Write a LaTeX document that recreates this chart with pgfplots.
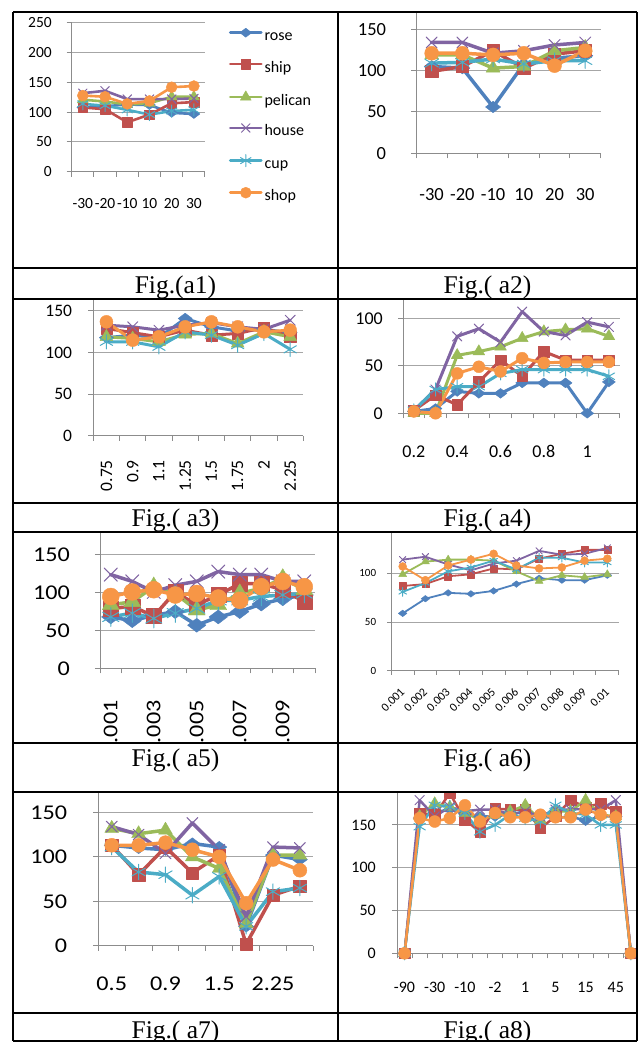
\documentclass[border=0pt]{standalone}
\usepackage{fontspec}
\setmainfont{Carlito}
\newfontfamily\capfont{Liberation Serif}
\newfontfamily\widefont{Carlito}[FakeStretch=1.15]
\usepackage{pgfplots}
\pgfplotsset{compat=1.18}
\usetikzlibrary{plotmarks}
\definecolor{cRose}{HTML}{4F81BD}
\definecolor{cShip}{HTML}{C0504D}
\definecolor{cPel}{HTML}{9BBB59}
\definecolor{cHouse}{HTML}{8064A2}
\definecolor{cCup}{HTML}{4BACC6}
\definecolor{cShop}{HTML}{F79646}
\definecolor{gridc}{HTML}{A6A6A6}
\definecolor{axc}{HTML}{8C8C8C}
\pgfplotsset{
  xl/.style={
    scale only axis, clip=false, anchor=south west,
    axis x line*=bottom, axis y line*=left,
    axis line style={-, axc, line width=1pt},
    ymajorgrids, grid style={gridc, line width=1pt},
    tick align=outside,
    major tick length=5pt, minor tick length=5pt,
    major x tick style={draw=none},
    minor x tick style={axc, line width=1pt},
    major y tick style={axc, line width=1pt},
    xmin=0.5, ymin=0,
    /pgf/number format/assume math mode=true,
    ticklabel style={text=black, inner sep=0pt},
    xticklabel style={anchor=north},
    yticklabel style={anchor=east},
    every axis plot/.append style={line join=round, line cap=round},
  },
  sRose/.style={color=cRose, mark=diamond*, mark options={solid, fill=cRose, line width=0.4pt, xscale=1.45, yscale=0.82}},
  sShip/.style={color=cShip, mark=square*, mark options={solid, fill=cShip, line width=0.4pt, scale=0.88}},
  sPel/.style={color=cPel, mark=triangle*, mark options={solid, fill=cPel, line width=0.4pt, scale=1.15}},
  sHouse/.style={color=cHouse, mark=x, mark options={solid, line width=1pt, scale=1.1}},
  sCup/.style={color=cCup, mark=asterisk, mark options={solid, line width=1pt, scale=1.1}},
  sShop/.style={color=cShop, mark=*, mark options={solid, fill=cShop, line width=0.4pt}},
}
\begin{document}
\begin{tikzpicture}[x=1pt,y=1pt]
\useasboundingbox (0,0) rectangle (638,1042);

% ---------------- a1 ----------------
\begin{scope}
\clip (13,774) rectangle (338,1030);
\begin{axis}[xl, at={(71.7pt,870.3pt)}, width=133.3pt, height=148.7pt,
  xmax=6.5, ymax=250, ytick={0,50,...,250},
  xtick={1,...,6}, xticklabels={-30,-20,-10,10,20,30},
  minor xtick={0.5,1.5,...,6.5},
  ticklabel style={font=\fontsize{15.5}{18}\selectfont},
  xticklabel shift=22pt, yticklabel shift=14.7pt,
  mark size=5.5pt, every axis plot/.append style={line width=2.6pt},
  legend style={at={(1.18,0.965)}, anchor=north west, draw=none, fill=none,
    inner sep=0pt, outer sep=0pt, row sep=14.6pt,
    font=\fontsize{16}{19}\selectfont,
    nodes={inner sep=0pt, text height=12pt, text depth=4pt},
    /tikz/every odd column/.append style={column sep=2pt}},
  legend cell align=left,
  legend image code/.code={\draw[mark repeat=2,mark phase=2,#1,yshift=4pt] plot coordinates {(0pt,0pt) (15.5pt,0pt) (31pt,0pt)};},
]
\addplot[sRose] coordinates {(1,108)(2,110)(3,113)(4,112)(5,99)(6,97)};
\addlegendentry{rose}
\addplot[sShip] coordinates {(1,108)(2,105)(3,83)(4,96)(5,115)(6,117)};
\addlegendentry{ship}
\addplot[sPel] coordinates {(1,121)(2,118)(3,113)(4,115)(5,126)(6,126)};
\addlegendentry{pelican}
\addplot[sHouse] coordinates {(1,132)(2,136)(3,122)(4,122)(5,122)(6,123)};
\addlegendentry{house}
\addplot[sCup] coordinates {(1,114)(2,111)(3,104)(4,96)(5,102)(6,104)};
\addlegendentry{cup}
\addplot[sShop] coordinates {(1,128)(2,126)(3,114)(4,119)(5,142)(6,144)};
\addlegendentry{shop}
\end{axis}
\end{scope}

% ---------------- a2 ----------------
\begin{scope}
\clip (338,774) rectangle (637,1030);
\begin{axis}[xl, at={(416.3pt,888.7pt)}, width=184.3pt, height=144.7pt,
  xmax=6.5, ymax=175, ytick={0,50,100,150},
  xtick={1,...,6}, xticklabels={-30,-20,-10,10,20,30},
  minor xtick={0.5,1.5,...,6.5},
  ticklabel style={font=\fontsize{18.5}{22}\selectfont},
  xticklabel shift=30pt, yticklabel shift=25pt,
  mark size=7pt, every axis plot/.append style={line width=3.5pt},
]
\addplot[sRose] coordinates {(1,105)(2,103)(3,56)(4,108)(5,115)(6,118)};
\addplot[sShip] coordinates {(1,99)(2,105)(3,124)(4,103)(5,120)(6,124)};
\addplot[sPel] coordinates {(1,119)(2,119)(3,103)(4,105)(5,124)(6,128)};
\addplot[sHouse] coordinates {(1,134)(2,134)(3,121)(4,124)(5,131)(6,134)};
\addplot[sCup] coordinates {(1,109)(2,110)(3,114)(4,108)(5,112)(6,112)};
\addplot[sShop] coordinates {(1,121)(2,121)(3,119)(4,121)(5,106)(6,124)};
\end{axis}
\end{scope}

% ---------------- a3 ----------------
\begin{scope}
\clip (13,539) rectangle (338,743);
\begin{axis}[xl, at={(93.3pt,606pt)}, width=210pt, height=137.5pt,
  xmax=8.5, ymax=165, ytick={0,50,100,150},
  xtick={1,...,8}, xticklabels={0.75,0.9,1.1,1.25,1.5,1.75,2,2.25},
  minor xtick={0.5,1.5,...,8.5},
  ticklabel style={font=\fontsize{17.5}{21}\selectfont},
  xticklabel style={rotate=90, anchor=east},
  xticklabel shift=19pt, yticklabel shift=16pt,
  mark size=6.5pt, every axis plot/.append style={line width=3pt},
]
\addplot[sRose] coordinates {(1,118)(2,121)(3,118)(4,141)(5,131)(6,126)(7,128)(8,124)};
\addplot[sShip] coordinates {(1,129)(2,124)(3,119)(4,127)(5,121)(6,123)(7,130)(8,119)};
\addplot[sPel] coordinates {(1,119)(2,117)(3,113)(4,122)(5,123)(6,111)(7,125)(8,119)};
\addplot[sHouse] coordinates {(1,133)(2,131)(3,127)(4,133)(5,136)(6,131)(7,128)(8,139)};
\addplot[sCup] coordinates {(1,113)(2,113)(3,107)(4,125)(5,121)(6,109)(7,123)(8,104)};
\addplot[sShop] coordinates {(1,137)(2,115)(3,119)(4,131)(5,137)(6,131)(7,125)(8,127)};
\end{axis}
\end{scope}

% ---------------- a4 ----------------
\begin{scope}
\clip (338,539) rectangle (637,743);
\begin{axis}[xl, at={(403pt,628.7pt)}, width=216.7pt, height=114pt,
  xmax=10.5, ymax=120, ytick={0,50,100},
  xtick={1,3,5,7,9}, xticklabels={0.2,0.4,0.6,0.8,1},
  minor xtick={0.5,1.5,...,10.5},
  ticklabel style={font=\fontsize{18}{22}\selectfont},
  xticklabel shift=27pt, yticklabel shift=15pt,
  mark size=6pt, every axis plot/.append style={line width=3pt},
]
\addplot[sRose] coordinates {(1,2)(2,5)(3,23)(4,21)(5,21)(6,32)(7,32)(8,32)(9,0)(10,33)};
\addplot[sShip] coordinates {(1,3)(2,19)(3,9)(4,33)(5,56)(6,39)(7,65)(8,56)(9,56)(10,56)};
\addplot[sPel] coordinates {(1,0)(2,0)(3,61)(4,65)(5,70)(6,79)(7,86)(8,88)(9,89)(10,81)};
\addplot[sHouse] coordinates {(1,3)(2,25)(3,81)(4,89)(5,75)(6,107)(7,86)(8,82)(9,96)(10,91)};
\addplot[sCup] coordinates {(1,3)(2,25)(3,28)(4,28)(5,42)(6,46)(7,46)(8,46)(9,46)(10,39)};
\addplot[sShop] coordinates {(1,2)(2,0)(3,42)(4,49)(5,44)(6,58)(7,53)(8,54)(9,54)(10,54)};
\end{axis}
\end{scope}

% ---------------- a5 ----------------
\begin{scope}
\clip (13,299) rectangle (338,510);
\begin{axis}[xl, at={(100pt,373.7pt)}, width=215pt, height=136pt,
  xmax=10.5, ymax=180, ytick={0,50,100,150},
  xtick={1,3,5,7,9}, xticklabels={.001,.003,.005,.007,.009},
  minor xtick={0.5,1.5,...,10.5},
  ticklabel style={font=\widefont\fontsize{21}{25}\selectfont},
  xticklabel style={rotate=90, anchor=east},
  xticklabel shift=27pt, yticklabel shift=25pt,
  mark size=8.5pt, every axis plot/.append style={line width=3.5pt},
]
\addplot[sRose] coordinates {(1,68)(2,63)(3,70)(4,75)(5,57)(6,68)(7,75)(8,85)(9,92)(10,97)};
\addplot[sShip] coordinates {(1,79)(2,82)(3,69)(4,101)(5,84)(6,97)(7,112)(8,112)(9,104)(10,88)};
\addplot[sPel] coordinates {(1,84)(2,88)(3,108)(4,99)(5,77)(6,84)(7,99)(8,106)(9,119)(10,104)};
\addplot[sHouse] coordinates {(1,124)(2,115)(3,101)(4,110)(5,115)(6,128)(7,124)(8,124)(9,115)(10,115)};
\addplot[sCup] coordinates {(1,68)(2,73)(3,66)(4,73)(5,79)(6,90)(7,90)(8,95)(9,97)(10,99)};
\addplot[sShop] coordinates {(1,95)(2,101)(3,104)(4,97)(5,99)(6,93)(7,90)(8,108)(9,115)(10,108)};
\end{axis}
\end{scope}

% ---------------- a6 ----------------
\begin{scope}
\clip (338,299) rectangle (637,510);
\begin{axis}[xl, at={(391.3pt,371pt)}, width=227.4pt, height=138.7pt,
  xmax=10.5, ymax=142, ytick={0,50,100},
  xtick={1,...,10}, xticklabels={0.001,0.002,0.003,0.004,0.005,0.006,0.007,0.008,0.009,0.01},
  minor xtick={0.5,1.5,...,10.5},
  major tick length=4pt, minor tick length=4pt,
  yticklabel style={font=\fontsize{11}{13}\selectfont},
  xticklabel style={font=\fontsize{12}{14}\selectfont, rotate=45, anchor=east},
  xticklabel shift=15pt, yticklabel shift=11pt,
  mark size=4pt, every axis plot/.append style={line width=1.8pt},
]
\addplot[sRose] coordinates {(1,59)(2,74)(3,80)(4,79)(5,82)(6,89)(7,95)(8,93)(9,93)(10,98)};
\addplot[sShip] coordinates {(1,87)(2,89)(3,97)(4,99)(5,105)(6,104)(7,115)(8,120)(9,124)(10,124)};
\addplot[sPel] coordinates {(1,99)(2,112)(3,114)(4,114)(5,113)(6,102)(7,92)(8,98)(9,96)(10,99)};
\addplot[sHouse] coordinates {(1,114)(2,117)(3,109)(4,103)(5,110)(6,113)(7,123)(8,119)(9,120)(10,126)};
\addplot[sCup] coordinates {(1,81)(2,90)(3,102)(4,106)(5,113)(6,104)(7,116)(8,116)(9,111)(10,111)};
\addplot[sShop] coordinates {(1,107)(2,93)(3,108)(4,114)(5,120)(6,108)(7,105)(8,106)(9,113)(10,115)};
\end{axis}
\end{scope}

% ---------------- a7 ----------------
\begin{scope}
\clip (13,29) rectangle (338,250);
\begin{axis}[xl, at={(98.3pt,96pt)}, width=215pt, height=153.3pt,
  xmax=8.5, ymax=172, ytick={0,50,100,150},
  xtick={1,3,5,7}, xticklabels={0.5,0.9,1.5,2.25},
  minor xtick={0.5,1.5,...,8.5},
  ticklabel style={font=\widefont\fontsize{21}{25}\selectfont},
  xticklabel shift=26pt, yticklabel shift=26pt,
  mark size=7pt, every axis plot/.append style={line width=3.5pt},
]
\addplot[sRose] coordinates {(1,113)(2,110)(3,108)(4,115)(5,111)(6,22)(7,102)(8,97)};
\addplot[sShip] coordinates {(1,113)(2,80)(3,111)(4,82)(5,102)(6,2)(7,57)(8,67)};
\addplot[sPel] coordinates {(1,132)(2,126)(3,130)(4,100)(5,87)(6,25)(7,102)(8,102)};
\addplot[sHouse] coordinates {(1,134)(2,125)(3,104)(4,138)(5,108)(6,33)(7,111)(8,110)};
\addplot[sCup] coordinates {(1,111)(2,83)(3,80)(4,57)(5,78)(6,22)(7,61)(8,65)};
\addplot[sShop] coordinates {(1,113)(2,113)(3,116)(4,108)(5,100)(6,48)(7,97)(8,85)};
\end{axis}
\end{scope}

% ---------------- a8 ----------------
\begin{scope}
\clip (338,29) rectangle (637,250);
\begin{axis}[xl, at={(397pt,88.7pt)}, width=241.4pt, height=161.7pt,
  xmax=16.5, ymax=189, ytick={0,50,100,150},
  xtick={1,3,...,15}, xticklabels={-90,-30,-10,-2,1,5,15,45},
  minor xtick={0.5,1.5,...,16.5},
  ticklabel style={font=\fontsize{16}{19}\selectfont},
  xticklabel shift=23.7pt, yticklabel shift=16pt,
  mark size=6pt, every axis plot/.append style={line width=2.5pt},
]
\addplot[sRose] coordinates {(1,0)(2,158)(3,165)(4,168)(5,163)(6,160)(7,160)(8,163)(9,165)(10,160)(11,158)(12,160)(13,155)(14,160)(15,160)(16,0)};
\addplot[sShip] coordinates {(1,0)(2,164)(3,162)(4,187)(5,156)(6,142)(7,169)(8,168)(9,168)(10,146)(11,160)(12,179)(13,171)(14,175)(15,166)(16,0)};
\addplot[sPel] coordinates {(1,0)(2,160)(3,175)(4,171)(5,164)(6,156)(7,162)(8,166)(9,173)(10,156)(11,166)(12,166)(13,179)(14,162)(15,160)(16,0)};
\addplot[sHouse] coordinates {(1,0)(2,179)(3,160)(4,171)(5,166)(6,168)(7,168)(8,162)(9,166)(10,160)(11,168)(12,168)(13,169)(14,168)(15,179)(16,0)};
\addplot[sCup] coordinates {(1,0)(2,148)(3,173)(4,171)(5,164)(6,142)(7,150)(8,162)(9,158)(10,154)(11,173)(12,164)(13,162)(14,150)(15,150)(16,0)};
\addplot[sShop] coordinates {(1,0)(2,158)(3,154)(4,158)(5,173)(6,154)(7,164)(8,159)(9,159)(10,162)(11,159)(12,159)(13,168)(14,162)(15,159)(16,0)};
\end{axis}
\end{scope}

% ---------------- captions ----------------
\begin{scope}[every node/.style={anchor=base, inner sep=0pt, font=\capfont\fontsize{25.5}{30}\selectfont}]
\begin{scope}\clip (13,743) rectangle (338,774); \node at (175.5,748) {Fig.(a1)}; \end{scope}
\begin{scope}\clip (338,743) rectangle (637,774); \node at (487.5,748) {Fig.( a2)}; \end{scope}
\begin{scope}\clip (13,510) rectangle (338,539); \node at (175.5,515) {Fig.( a3)}; \end{scope}
\begin{scope}\clip (338,510) rectangle (637,539); \node at (487.5,515) {Fig.( a4)}; \end{scope}
\begin{scope}\clip (13,250) rectangle (338,299); \node at (175.5,275) {Fig.( a5)}; \end{scope}
\begin{scope}\clip (338,250) rectangle (637,299); \node at (487.5,275) {Fig.( a6)}; \end{scope}
\begin{scope}\clip (13,0) rectangle (338,29); \node at (175.5,4) {Fig.( a7)}; \end{scope}
\begin{scope}\clip (338,0) rectangle (637,29); \node at (487.5,4) {Fig.( a8)}; \end{scope}
\end{scope}

% ---------------- table rules ----------------
\begin{scope}[line width=1.6pt, black]
\foreach \yy in {1030,774,743,539,510,299,250,29,1} \draw (13,\yy) -- (637,\yy);
\foreach \xx in {13,338,637} \draw (\xx,1) -- (\xx,1030);
\end{scope}
\end{tikzpicture}
\end{document}
